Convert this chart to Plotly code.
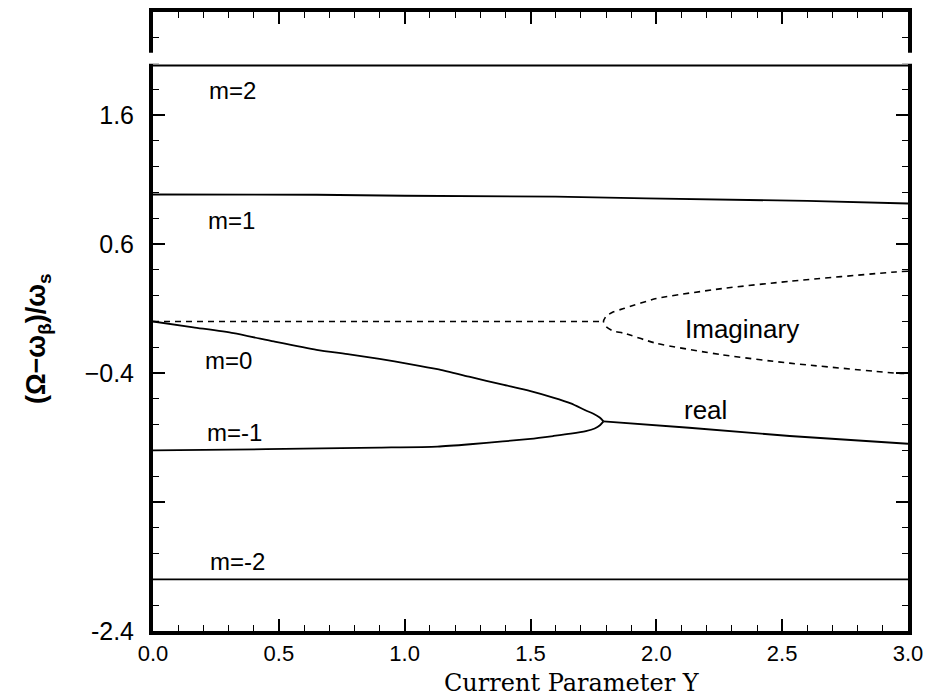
import plotly.graph_objects as go

# ---- data ----
gamma_m2 = [0.0, 3.0]
freq_m2 = [1.985, 1.985]

gamma_m1 = [0.0, 0.65, 1.0, 1.6, 1.96, 2.6, 3.0]
freq_m1 = [0.985, 0.983, 0.975, 0.968, 0.955, 0.935, 0.915]

gamma_m0 = [0.0, 0.16, 0.32, 0.48, 0.65, 0.78, 0.90, 1.02, 1.13, 1.26, 1.39, 1.50,
            1.59, 1.66, 1.72, 1.75, 1.775, 1.79]
freq_m0 = [0.0, -0.045, -0.09, -0.155, -0.22, -0.255, -0.29, -0.33, -0.37, -0.43,
           -0.49, -0.54, -0.59, -0.635, -0.69, -0.715, -0.745, -0.775]

gamma_mm1 = [0.0, 0.45, 0.90, 1.13, 1.26, 1.39, 1.50, 1.59, 1.66, 1.72, 1.755, 1.776, 1.79]
freq_mm1 = [-1.0, -0.99, -0.978, -0.97, -0.952, -0.93, -0.91, -0.888, -0.87, -0.85,
            -0.83, -0.805, -0.775]

gamma_real = [1.79, 2.13, 2.53, 3.0]
freq_real = [-0.775, -0.824, -0.888, -0.948]

gamma_imag_flat = [0.0, 1.79]
imag_flat = [0.0, 0.0]

gamma_imag = [3.0, 2.95, 2.53, 2.26, 2.0, 1.87, 1.83, 1.80, 1.79,
              1.80, 1.83, 1.87, 2.0, 2.26, 2.53, 2.95, 3.0]
imag_vals = [0.39, 0.384, 0.312, 0.255, 0.178, 0.10, 0.075, 0.04, 0.0,
             -0.04, -0.075, -0.09, -0.169, -0.258, -0.323, -0.40, -0.405]

gamma_m_minus2 = [0.0, 3.0]
freq_m_minus2 = [-2.0, -2.0]

x_tickvals = [0.0, 0.5, 1.0, 1.5, 2.0, 2.5, 3.0]
x_ticktext = ["0.0", "0.5", "1.0", "1.5", "2.0", "2.5", "3.0"]
y_tickvals = [-2.4, -1.4, -0.4, 0.6, 1.6]
y_ticktext = ["-2.4", " ", "\u22120.4", "0.6", "1.6"]

mode_labels = ["m=2", "m=1", "m=0", "m=-1", "m=-2"]
mode_label_pos = [(0.314, 1.79), (0.31, 0.785), (0.298, -0.30), (0.322, -0.857), (0.334, -1.86)]

SANS = "Liberation Sans, Arial, sans-serif"
SERIF = "DejaVu Serif, Liberation Serif, serif"

fig = go.Figure()
solid = dict(color="black", width=1.8, shape="spline", smoothing=0.6)
straight = dict(color="black", width=1.8)
dashed = dict(color="black", width=1.6, dash="6px,5px", shape="spline", smoothing=0.6)

for gx, gy, ln in [(gamma_m2, freq_m2, straight), (gamma_m1, freq_m1, straight),
                   (gamma_m0, freq_m0, solid), (gamma_mm1, freq_mm1, solid),
                   (gamma_real, freq_real, straight),
                   (gamma_m_minus2, freq_m_minus2, straight)]:
    fig.add_trace(go.Scatter(x=gx, y=gy, mode="lines", line=ln,
                             showlegend=False, hoverinfo="skip"))
fig.add_trace(go.Scatter(x=gamma_imag_flat, y=imag_flat, mode="lines",
                         line=dict(color="black", width=1.6, dash="6px,5px"),
                         showlegend=False, hoverinfo="skip"))
fig.add_trace(go.Scatter(x=gamma_imag, y=imag_vals, mode="lines", line=dashed,
                         showlegend=False, hoverinfo="skip"))

annotations = []
for txt, (ax, ay) in zip(mode_labels, mode_label_pos):
    annotations.append(dict(x=ax, y=ay, xref="x", yref="y", text=txt, showarrow=False,
                            font=dict(family=SANS, size=24, color="black")))
annotations.append(dict(x=2.34, y=-0.055, xref="x", yref="y", text="Imaginary", showarrow=False,
                        font=dict(family=SANS, size=26, color="black")))
annotations.append(dict(x=2.197, y=-0.69, xref="x", yref="y", text="real", showarrow=False,
                        font=dict(family=SANS, size=26, color="black")))
annotations.append(dict(x=-0.152, y=0.472, xref="paper", yref="paper",
                        xanchor="center", yanchor="middle",
                        text="<b>(\u03a9\u2212\u03c9<sub>\u03b2</sub>)/\u03c9<sub>s</sub></b>",
                        textangle=-90, showarrow=False,
                        font=dict(family=SANS, size=27, color="black")))
annotations.append(dict(x=0.555, y=-0.0845, xref="paper", yref="paper",
                        xanchor="center", yanchor="middle",
                        text="Current Parameter \u03a5", showarrow=False,
                        font=dict(family=SERIF, size=24, color="black")))

axis_common = dict(showline=True, linewidth=4, linecolor="black", mirror="ticks",
                   ticks="inside", ticklen=12, tickwidth=1.5, tickcolor="black",
                   showgrid=False, zeroline=False)

fig.update_layout(
    width=939, height=696,
    margin=dict(l=153, r=31, t=8, b=65),
    paper_bgcolor="white", plot_bgcolor="white",
    xaxis=dict(range=[0, 3], tickmode="array", tickvals=x_tickvals, ticktext=x_ticktext,
               minor=dict(tickmode="linear", tick0=0, dtick=0.1, ticks="inside",
                          ticklen=6, tickwidth=1.2, tickcolor="black"),
               tickfont=dict(family=SANS, size=22, color="black"),
               ticklabelstandoff=0, **axis_common),
    yaxis=dict(range=[-2.4, 2.4], tickmode="array", tickvals=y_tickvals, ticktext=y_ticktext,
               minor=dict(tickmode="linear", tick0=-2.4, dtick=0.2, ticks="inside",
                          ticklen=6, tickwidth=1.2, tickcolor="black"),
               tickfont=dict(family=SANS, size=25, color="black"),
               ticklabelstandoff=10, **axis_common),
    annotations=annotations,
    shapes=[dict(type="rect", xref="paper", yref="paper", x0=-0.015, x1=1.015,
                 y0=0.9165, y1=0.934, fillcolor="white", line=dict(width=0),
                 layer="above")],
)

fig.write_html("out.html")
